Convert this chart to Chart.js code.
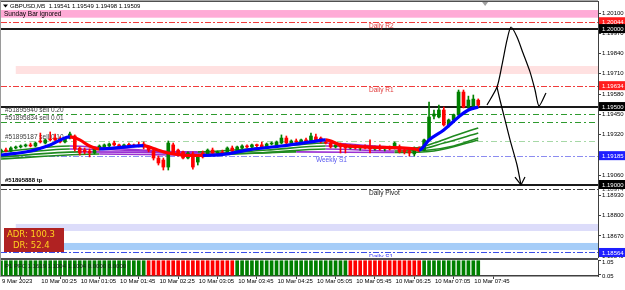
<!DOCTYPE html>
<html><head><meta charset="utf-8">
<script src="https://cdn.jsdelivr.net/npm/chart.js@4.4.1/dist/chart.umd.min.js"></script>
<style>
html,body{margin:0;padding:0;background:#fff;}
#wrap{position:relative;width:625px;height:290px;overflow:hidden;background:#fff;}
canvas{position:absolute;left:0;}
#main{top:0;} #ind{top:258px;}
</style></head><body>
<div id="wrap"><canvas id="main" width="625" height="258"></canvas><canvas id="ind" width="625" height="32"></canvas></div>
<script>
const FONT = '"Liberation Sans", Arial, sans-serif';
const symbol = 'GBPUSD,M5';
const timeLabels = ['9 Mar 2023','10 Mar 00:25','10 Mar 01:05','10 Mar 01:45','10 Mar 02:25','10 Mar 03:05','10 Mar 03:45','10 Mar 04:25','10 Mar 05:05','10 Mar 05:45','10 Mar 06:25','10 Mar 07:05','10 Mar 07:45'];
const timeTickBars = [0,8,16,24,32,40,48,56,64,72,80,88,96];

const open = [
1.19209,1.19221,1.19215,1.19234,1.19241,1.19247,1.19254,1.19247,1.19279,1.19266,
1.19292,1.19298,1.19292,1.19273,1.19298,1.19311,1.19234,1.19221,1.19215,1.19202,
1.19228,1.19241,1.19247,1.19266,1.19254,1.19247,1.19254,1.19251,1.19254,1.19260,
1.19241,1.19215,1.19170,1.19157,1.19112,1.19254,1.19221,1.19209,1.19170,1.19196,
1.19144,1.19202,1.19189,1.19221,1.19202,1.19209,1.19202,1.19234,1.19209,1.19234,
1.19247,1.19241,1.19254,1.19254,1.19241,1.19260,1.19247,1.19266,1.19298,1.19266,
1.19279,1.19273,1.19286,1.19273,1.19305,1.19298,1.19273,1.19266,1.19241,1.19254,
1.19247,1.19234,1.19247,1.19234,1.19241,1.19241,1.19228,1.19241,1.19228,1.19234,
1.19234,1.19241,1.19221,1.19215,1.19196,1.19234,1.19221,1.19286,1.19439,1.19433,
1.19478,1.19382,1.19414,1.19446,1.19593,1.19497,1.19504,1.19541];
const high = [
1.19228,1.19234,1.19241,1.19247,1.19254,1.19260,1.19266,1.19273,1.19330,1.19292,
1.19337,1.19324,1.19305,1.19298,1.19337,1.19318,1.19241,1.19234,1.19228,1.19234,
1.19254,1.19260,1.19266,1.19279,1.19260,1.19260,1.19266,1.19260,1.19273,1.19273,
1.19247,1.19228,1.19183,1.19170,1.19279,1.19266,1.19228,1.19215,1.19209,1.19209,
1.19189,1.19215,1.19228,1.19234,1.19215,1.19221,1.19241,1.19247,1.19247,1.19254,
1.19254,1.19260,1.19260,1.19273,1.19266,1.19273,1.19279,1.19318,1.19311,1.19286,
1.19292,1.19292,1.19298,1.19330,1.19324,1.19305,1.19286,1.19279,1.19260,1.19266,
1.19260,1.19254,1.19254,1.19247,1.19254,1.19286,1.19247,1.19254,1.19241,1.19247,
1.19273,1.19254,1.19234,1.19228,1.19241,1.19241,1.19292,1.19529,1.19478,1.19510,
1.19497,1.19420,1.19452,1.19606,1.19606,1.19567,1.19574,1.19549];
const low = [
1.19196,1.19209,1.19209,1.19228,1.19234,1.19241,1.19241,1.19241,1.19266,1.19260,
1.19279,1.19279,1.19266,1.19266,1.19292,1.19215,1.19189,1.19196,1.19177,1.19196,
1.19221,1.19234,1.19241,1.19247,1.19241,1.19241,1.19247,1.19241,1.19241,1.19228,
1.19209,1.19157,1.19125,1.19093,1.19093,1.19196,1.19183,1.19164,1.19164,1.19099,
1.19125,1.19170,1.19183,1.19196,1.19189,1.19196,1.19196,1.19209,1.19202,1.19228,
1.19234,1.19234,1.19241,1.19234,1.19234,1.19254,1.19241,1.19260,1.19260,1.19260,
1.19266,1.19266,1.19273,1.19266,1.19279,1.19266,1.19260,1.19234,1.19234,1.19202,
1.19202,1.19228,1.19228,1.19221,1.19228,1.19202,1.19221,1.19221,1.19215,1.19221,
1.19228,1.19202,1.19196,1.19183,1.19183,1.19209,1.19215,1.19279,1.19420,1.19427,
1.19375,1.19369,1.19407,1.19439,1.19491,1.19478,1.19497,1.19498];
const close = [
1.19221,1.19215,1.19234,1.19241,1.19247,1.19254,1.19247,1.19266,1.19273,1.19286,
1.19286,1.19286,1.19273,1.19292,1.19324,1.19228,1.19202,1.19209,1.19202,1.19228,
1.19247,1.19254,1.19260,1.19254,1.19247,1.19254,1.19251,1.19247,1.19247,1.19241,
1.19221,1.19170,1.19138,1.19112,1.19266,1.19202,1.19189,1.19170,1.19202,1.19112,
1.19177,1.19177,1.19221,1.19202,1.19209,1.19202,1.19234,1.19215,1.19241,1.19247,
1.19241,1.19254,1.19249,1.19241,1.19260,1.19266,1.19273,1.19298,1.19266,1.19279,
1.19273,1.19286,1.19279,1.19311,1.19286,1.19273,1.19266,1.19241,1.19254,1.19241,
1.19234,1.19247,1.19234,1.19241,1.19234,1.19228,1.19241,1.19228,1.19234,1.19228,
1.19266,1.19209,1.19209,1.19202,1.19234,1.19221,1.19286,1.19433,1.19452,1.19478,
1.19382,1.19414,1.19446,1.19593,1.19497,1.19542,1.19548,1.19509];

// trend moving average (blue rising / red falling)
const maTrendX = [0,6,10,14,16,18,20,25,29,31,34,37,41,46,50,57,63,66,69,74,84,85,87,90,93,95,97];
const maTrendY = [1.19189,1.19215,1.19254,1.19305,1.19286,1.19247,1.19228,1.19240,1.19250,1.19230,1.19202,1.19189,1.19186,1.19196,1.19221,1.19247,1.19273,1.19286,1.19254,1.19241,1.19228,1.19221,1.19286,1.19350,1.19433,1.19478,1.19497];
// slower moving averages (green rising / purple falling)
const ma1X = [0,14,22,32,40,50,60,66,76,84,88,92,97];
const ma1Y = [1.19209,1.19247,1.19234,1.19215,1.19209,1.19228,1.19254,1.19266,1.19247,1.19234,1.19266,1.19311,1.19363];
const ma2X = [0,14,24,34,44,54,66,78,85,90,97];
const ma2Y = [1.19189,1.19228,1.19221,1.19209,1.19202,1.19221,1.19247,1.19234,1.19228,1.19266,1.19330];
const ma3X = [0,16,30,40,52,66,80,87,92,97];
const ma3Y = [1.19177,1.19209,1.19206,1.19196,1.19202,1.19228,1.19215,1.19221,1.19247,1.19298];
const ma4X = [0,20,40,60,80,88,97];
const ma4Y = [1.19164,1.19196,1.19189,1.19209,1.19205,1.19215,1.19286];

const priceTicks = [1.20100,1.19970,1.19840,1.19710,1.19580,1.19450,1.19320,1.19190,1.19060,1.18930,1.18800,1.18670,1.18540];
const pivotNames = ['Daily R2','Daily R1','Daily Pivot','Daily S1'];
const pivotPrices = [1.20044,1.19634,1.18974,1.18564];
const weeklyNames = ['Weekly S1'];
const weeklyPrices = [1.19185];
const roundPrices = [1.20000,1.19500,1.19000];
const orderLabels = ['#51895940 sell 0.20','#51895834 sell 0.01','#51895187 sell 0.10'];
const orderPrices = [1.19452,1.19401,1.19279];
const tpLabels = ['#51895888 tp'];
const tpPrices = [1.19000];
const zoneHigh = [1.20119,1.19760,1.18747,1.18625];
const zoneLow  = [1.20070,1.19709,1.18702,1.18580];
const zoneFromBar = [-1,3,3,3];
const zoneNote = 'Sunday Bar ignored';
const adrValue = 100.3, drValue = 52.4;

// hand-drawn arrows
const drawAX = [98.78,100.81,101.83,102.85,103.66,104.88,106.10,107.52,108.54,109.35,110.77];
const drawAY = [1.19510,1.19625,1.19767,1.19927,1.20010,1.19946,1.19843,1.19722,1.19606,1.19504,1.19587];
const drawBX = [100.81,101.42,102.44,103.46,104.88,105.69];
const drawBY = [1.19625,1.19542,1.19414,1.19286,1.19125,1.18997];
const arrowBX = [104.47,105.69,106.50];
const arrowBY = [1.19048,1.18997,1.19048];

// indicator panel
const pfcSignal = [
1,1,1,1,1,1,1,1,1,1, 1,1,1,1,1,1,1,1,1,1, 1,1,1,1,1,1,1,1,1,1,
-1,-1,-1,-1,-1,-1,-1,-1,-1,-1, -1,-1,-1,-1,-1,-1,-1,-1,
1,1,1,1,1,1,1,1,1,1, 1,1,1,1,1,1,1,1,1,1, 1,1,1,
-1,-1,-1,-1,-1,-1,-1,-1,-1,-1, -1,-1,-1,-1,-1,
1,1,1,1,1,1,1,1,1,1, 1,1];
const pfcTicks = [1.05, 0.05];
const pfcText = 'P1 PFC 1.1619 1.1004 1.1004 0.0000 0.0000';

// ---------- styles ----------
const X_MIN = 0, X_MAX = 121.34;
const UP = '#008000', DN = '#ff0000';
const bars = open.map((_, i) => i);
const candleCol = bars.map(i => close[i] >= open[i] ? UP : DN);
const pts = (xs, ys) => xs.map((x, k) => ({x, y: ys[k]}));
const bySlope = (up, down) => c => (c.p1.parsed.y < c.p0.parsed.y ? down : up);
const pivotColor = ['#f03c3c','#f03c3c','#404040','#3a4ee6'];
const pivotText = ['#e03c3c','#e03c3c','#202020','#3c3cf0'];
const zoneColor = ['#ffaad6','#ffe1e1','#dcdcfa','#a6cdf8'];

const mainDecor = {
  id: 'mainDecor',
  beforeDatasetsDraw(chart) {
    const {ctx, chartArea: a, scales: {x, y}} = chart;
    const py = v => y.getPixelForValue(v), px = v => x.getPixelForValue(v);
    ctx.save();
    ctx.beginPath(); ctx.rect(a.left, a.top, a.right - a.left, a.bottom - a.top); ctx.clip();
    zoneHigh.forEach((hi, k) => {
      const x0 = Math.max(a.left, px(zoneFromBar[k]));
      ctx.fillStyle = zoneColor[k];
      ctx.fillRect(x0, py(hi), a.right - x0, py(zoneLow[k]) - py(hi));
    });
    const hline = (v, color, w, dash) => {
      const yy = Math.round(py(v)) + (w % 2 ? 0.5 : 0);
      ctx.strokeStyle = color; ctx.lineWidth = w; ctx.setLineDash(dash);
      ctx.beginPath(); ctx.moveTo(a.left, yy); ctx.lineTo(a.right, yy); ctx.stroke();
    };
    pivotPrices.forEach((v, k) => hline(v, pivotColor[k], 1, [6,2,2,2]));
    weeklyPrices.forEach(v => hline(v, '#8c8cf0', 1, [6,2,2,2]));
    hline(orderPrices[0], '#2e9a2e', 1, [6,3,2,3]);
    hline(orderPrices[1], '#2e9a2e', 1, [6,3,2,3]);
    hline(orderPrices[2], '#a6d8a6', 1, [6,3,2,3]);
    roundPrices.forEach(v => hline(v, '#1a1a1a', 2, []));
    ctx.setLineDash([]);
    ctx.textAlign = 'left';
    ctx.font = '6.5px ' + FONT;
    ctx.textBaseline = 'top';
    pivotPrices.forEach((v, k) => { ctx.fillStyle = pivotText[k]; ctx.fillText(pivotNames[k], px(74.8), py(v) + 1.5); });
    ctx.fillStyle = '#5a5af0';
    weeklyPrices.forEach((v, k) => ctx.fillText(weeklyNames[k], px(64), py(v) + 1.5));
    ctx.textBaseline = 'bottom';
    ctx.fillStyle = '#404040';
    orderPrices.forEach((v, k) => ctx.fillText(orderLabels[k], a.left + 4, py(v) - 0.5));
    ctx.fillStyle = '#000';
    ctx.font = 'bold 6px ' + FONT;
    tpPrices.forEach((v, k) => ctx.fillText(tpLabels[k], a.left + 4, py(v) - 1));
    ctx.font = '6.5px ' + FONT;
    ctx.textBaseline = 'middle';
    ctx.fillText(zoneNote, a.left + 3, (py(zoneHigh[0]) + py(zoneLow[0])) / 2 + 0.5);
    ctx.restore();
  },
  afterDatasetsDraw(chart) {
    const {ctx, chartArea: a} = chart;
    ctx.save();
    // ADR box
    const bx = a.left + 3, by = a.bottom - 29;
    ctx.fillStyle = '#b02222';
    ctx.fillRect(bx, by, 60, 24);
    ctx.fillStyle = '#ffd21e';
    ctx.font = '8.5px "DejaVu Sans", sans-serif';
    ctx.textBaseline = 'middle'; ctx.textAlign = 'left';
    ctx.fillText('ADR: ' + adrValue.toFixed(1), bx + 3, by + 7);
    ctx.fillText('DR: ' + drValue.toFixed(1), bx + 9, by + 18);
    // title
    ctx.fillStyle = '#000';
    ctx.beginPath(); ctx.moveTo(3, 4.5); ctx.lineTo(8, 4.5); ctx.lineTo(5.5, 7.5); ctx.closePath(); ctx.fill();
    ctx.font = '6px ' + FONT;
    const last = open.length - 1;
    ctx.fillText(symbol + '  ' + [open[last], high[last], low[last], close[last]].map(v => v.toFixed(5)).join(' '), 10, 6.5);
    ctx.restore();
  },
  afterDraw(chart) {
    const {ctx, chartArea: a, scales: {x, y}} = chart;
    const py = v => y.getPixelForValue(v);
    ctx.save();
    ctx.fillStyle = '#505050';
    ctx.fillRect(0, 0.5, a.right, 1.5);
    ctx.fillStyle = '#9a9a9a';
    ctx.fillRect(0, 0, 1, a.bottom + 1);
    // shift marker
    ctx.fillStyle = '#a0a0a0';
    const sx = x.getPixelForValue(98.4);
    ctx.beginPath(); ctx.moveTo(sx - 3, 2); ctx.lineTo(sx + 3, 2); ctx.lineTo(sx, 6); ctx.closePath(); ctx.fill();
    // axis price labels
    ctx.font = '6px ' + FONT; ctx.textBaseline = 'middle'; ctx.textAlign = 'left';
    ctx.fillStyle = '#303030';
    ctx.fillText(pivotPrices[2].toFixed(5), y.left + 4, py(pivotPrices[2]) + 1);
    const marks = [
      [pivotPrices[0], '#ff1e1e'], [pivotPrices[1], '#ff1e1e'],
      [roundPrices[0], '#000'], [roundPrices[1], '#000'], [roundPrices[2], '#000'],
      [weeklyPrices[0], '#1e1eff'], [pivotPrices[3], '#1e1eff']
    ];
    marks.forEach(([v, bg]) => {
      const yy = py(v);
      ctx.fillStyle = bg; ctx.fillRect(y.left + 1, yy - 4.5, 27, 9);
      ctx.fillStyle = '#fff'; ctx.fillText(v.toFixed(5), y.left + 4, yy + 0.5);
    });
    ctx.restore();
  }
};

new Chart(document.getElementById('main'), {
  type: 'bar',
  data: { datasets: [
    ...[[ma1X,ma1Y],[ma2X,ma2Y],[ma3X,ma3Y],[ma4X,ma4Y]].map(([xs, ys]) => ({
      type: 'line', data: pts(xs, ys), borderColor: '#1f8a1f', borderWidth: 1.6, pointRadius: 0,
      cubicInterpolationMode: 'monotone', segment: {borderColor: bySlope('#1f8a1f', '#9a2fd2')}, order: 6
    })),
    {type: 'bar', data: bars.map(i => ({x: i, y: [low[i], high[i]]})), backgroundColor: candleCol,
     barThickness: 1, grouped: false, order: 5},
    {type: 'bar', data: bars.map(i => ({x: i, y: [open[i], close[i]]})), backgroundColor: candleCol,
     barThickness: 3, minBarLength: 1, grouped: false, order: 4},
    {type: 'line', data: pts(maTrendX, maTrendY), borderColor: '#0000ff', borderWidth: 3.2, pointRadius: 0,
     cubicInterpolationMode: 'monotone', segment: {borderColor: bySlope('#0000ff', '#ff0000')}, order: 3},
    {type: 'line', data: pts(drawAX, drawAY), borderColor: '#000', borderWidth: 1.2, pointRadius: 0, tension: 0.25, order: 1},
    {type: 'line', data: pts(drawBX, drawBY), borderColor: '#000', borderWidth: 1.2, pointRadius: 0, tension: 0.2, order: 1},
    {type: 'line', data: pts(arrowBX, arrowBY), borderColor: '#000', borderWidth: 1.2, pointRadius: 0, order: 1}
  ]},
  plugins: [mainDecor],
  options: {
    responsive: false, animation: false, devicePixelRatio: 1,
    layout: {padding: {left: 1, top: 1, right: 0, bottom: 1}},
    plugins: {legend: {display: false}, tooltip: {enabled: false}},
    scales: {
      x: {type: 'linear', display: false, min: X_MIN, max: X_MAX, offset: false},
      y: {type: 'linear', position: 'right', min: 1.18535, max: 1.20177,
          afterBuildTicks: s => { s.ticks = priceTicks.map(v => ({value: v})); },
          afterFit: s => { s.width = 27; s.paddingTop = 0; s.paddingBottom = 0; },
          ticks: {autoSkip: false, font: {family: FONT, size: 6}, color: '#000', padding: 1, callback: v => v.toFixed(5)},
          grid: {drawOnChartArea: false, tickLength: 3, color: '#404040'},
          border: {color: '#404040', width: 1}}
    }
  }
});

const indDecor = {
  id: 'indDecor',
  afterDatasetsDraw(chart) {
    const {ctx, chartArea: a} = chart;
    ctx.save();
    ctx.fillStyle = '#1a1a1a';
    ctx.font = '6px ' + FONT; ctx.textBaseline = 'middle'; ctx.textAlign = 'left';
    ctx.fillText(pfcText, a.left + 4, a.top + 6);
    ctx.restore();
  },
  afterDraw(chart) {
    const {ctx, chartArea: a} = chart;
    ctx.save();
    ctx.fillStyle = '#505050';
    ctx.fillRect(0, 0, a.right, 2);
    ctx.fillStyle = '#9a9a9a';
    ctx.fillRect(0, 0, 1, a.bottom);
    ctx.restore();
  }
};

new Chart(document.getElementById('ind'), {
  type: 'bar',
  data: { datasets: [{
    data: bars.map(i => ({x: i, y: Math.abs(pfcSignal[i])})),
    backgroundColor: pfcSignal.map(s => s > 0 ? UP : DN),
    barThickness: 3, grouped: false
  }]},
  plugins: [indDecor],
  options: {
    responsive: false, animation: false, devicePixelRatio: 1,
    layout: {padding: {left: 1, top: 2, right: 0, bottom: 0}},
    plugins: {legend: {display: false}, tooltip: {enabled: false}},
    scales: {
      x: {type: 'linear', min: X_MIN, max: X_MAX, offset: false,
          afterBuildTicks: s => { s.ticks = timeTickBars.map(v => ({value: v})); },
          afterFit: s => { s.height = 14; s.paddingLeft = 0; s.paddingRight = 0; },
          ticks: {autoSkip: false, maxRotation: 0, align: 'start', labelOffset: 1, padding: -1,
                  font: {family: FONT, size: 6}, color: '#000', callback: (v, k) => timeLabels[k]},
          grid: {drawOnChartArea: false, tickLength: 3, color: '#404040'},
          border: {color: '#404040', width: 1.5}},
      y: {position: 'right', min: -0.05, max: 1.05,
          afterBuildTicks: s => { s.ticks = pfcTicks.map(v => ({value: v})); },
          afterFit: s => { s.width = 27; s.paddingTop = 0; s.paddingBottom = 0; },
          ticks: {autoSkip: false, font: {family: FONT, size: 6}, color: '#000', padding: 1, labelOffset: 2,
                  callback: v => v.toFixed(2)},
          grid: {drawOnChartArea: false, tickLength: 3, color: '#404040'},
          border: {color: '#404040'}}
    }
  }
});
</script>
</body></html>
